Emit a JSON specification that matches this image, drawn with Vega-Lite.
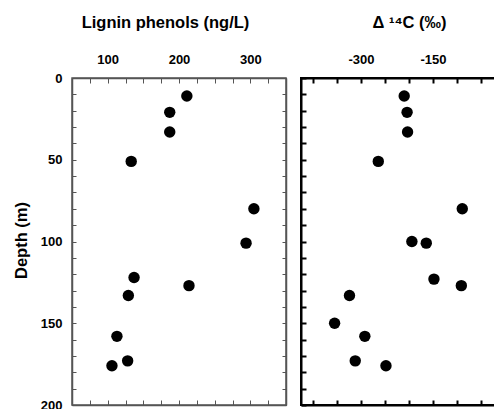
{
  "$schema": "https://vega.github.io/schema/vega-lite/v6.json",
  "padding": {"left": 12, "top": 13, "right": -25, "bottom": -4},
  "background": "white",
  "spacing": 11,
  "config": {
    "font": "Liberation Sans",
    "view": {"stroke": null},
    "axis": {
      "labelFont": "Liberation Sans", "labelFontWeight": "bold", "labelFontSize": 13, "labelColor": "black",
      "titleFont": "Liberation Sans", "titleFontWeight": "bold", "titleFontSize": 16.5, "titleColor": "black",
      "grid": false, "labelOverlap": false, "labelFlush": false, "tickSize": -5
    },
    "axisX": {"labelPadding": 17, "titlePadding": 23},
    "axisY": {"labelPadding": 14}
  },
  "datasets": {
    "lignin": [
      {"depth": 11, "lignin": 211}, {"depth": 21, "lignin": 187}, {"depth": 33, "lignin": 187},
      {"depth": 51, "lignin": 133}, {"depth": 80, "lignin": 305}, {"depth": 101, "lignin": 294},
      {"depth": 122, "lignin": 137}, {"depth": 127, "lignin": 214}, {"depth": 133, "lignin": 129},
      {"depth": 158, "lignin": 113}, {"depth": 173, "lignin": 128}, {"depth": 176, "lignin": 106}
    ],
    "d14c": [
      {"depth": 11, "d14c": -210}, {"depth": 21, "d14c": -204}, {"depth": 33, "d14c": -203},
      {"depth": 51, "d14c": -264}, {"depth": 80, "d14c": -89}, {"depth": 100, "d14c": -194},
      {"depth": 101, "d14c": -164}, {"depth": 123, "d14c": -148}, {"depth": 127, "d14c": -91},
      {"depth": 133, "d14c": -324}, {"depth": 150, "d14c": -355}, {"depth": 158, "d14c": -292},
      {"depth": 173, "d14c": -312}, {"depth": 176, "d14c": -248}
    ]
  },
  "hconcat": [
    {
      "width": 214, "height": 327,
      "data": {"name": "lignin"},
      "view": {"stroke": "#555", "strokeWidth": 1.5},
      "layer": [
        {
          "mark": {"type": "point", "filled": true, "color": "black", "size": 130, "opacity": 1},
          "encoding": {
            "x": {"field": "lignin", "type": "quantitative",
              "scale": {"domain": [50, 350], "nice": false, "zero": false},
              "axis": {"orient": "top", "title": "Lignin phenols (ng/L)", "titleX": 93,
                "values": [50,75,100,125,150,175,200,225,250,275,300,325,350],
                "labelExpr": "datum.value % 100 == 0 ? '' + datum.value : ''",
                "domainColor": "#555", "domainWidth": 1.5, "tickColor": "#555", "tickWidth": 1}},
            "y": {"field": "depth", "type": "quantitative",
              "scale": {"domain": [0, 200], "reverse": true, "nice": false, "zero": false},
              "axis": {"orient": "left", "title": "Depth (m)", "titleX": -46, "titleY": 162,
                "titleAngle": 270, "titleAlign": "center", "titleBaseline": "alphabetic",
                "values": [0,10,20,30,40,50,60,70,80,90,100,110,120,130,140,150,160,170,180,190,200],
                "labelExpr": "datum.value % 50 == 0 ? '' + datum.value : ''",
                "domainColor": "#555", "domainWidth": 1.5, "tickColor": "#555", "tickWidth": 1, "tickSize": -4}}
          }
        },
        {
          "mark": {"type": "point", "opacity": 0},
          "encoding": {
            "x": {"field": "lignin", "type": "quantitative",
              "scale": {"domain": [50, 350], "nice": false, "zero": false},
              "axis": {"orient": "bottom", "title": null, "labels": false,
                "values": [50,75,100,125,150,175,200,225,250,275,300,325,350],
                "domainColor": "#555", "domainWidth": 1.5, "tickColor": "#555", "tickWidth": 1}},
            "y": {"field": "depth", "type": "quantitative",
              "scale": {"domain": [0, 200], "reverse": true, "nice": false, "zero": false},
              "axis": {"orient": "right", "title": null, "labels": false,
                "values": [0,10,20,30,40,50,60,70,80,90,100,110,120,130,140,150,160,170,180,190,200],
                "domainColor": "#555", "domainWidth": 1.5, "tickColor": "#555", "tickWidth": 1, "tickSize": -4}}
          }
        }
      ],
      "resolve": {"axis": {"x": "independent", "y": "independent"}}
    },
    {
      "width": 216, "height": 327,
      "data": {"name": "d14c"},
      "view": {"stroke": "black", "strokeWidth": 2},
      "layer": [
        {
          "mark": {"type": "point", "filled": true, "color": "black", "size": 130, "opacity": 1},
          "encoding": {
            "x": {"field": "d14c", "type": "quantitative",
              "scale": {"domain": [-425, 25], "nice": false, "zero": false},
              "axis": {"orient": "top", "title": "Δ ¹⁴C (‰)",
                "values": [-400,-350,-300,-250,-200,-150,-100,-50,0],
                "labelExpr": "datum.value % 150 == 0 ? '' + datum.value : ''",
                "domainColor": "black", "domainWidth": 2, "tickColor": "black", "tickWidth": 2}},
            "y": {"field": "depth", "type": "quantitative",
              "scale": {"domain": [0, 200], "reverse": true, "nice": false, "zero": false},
              "axis": {"orient": "left", "title": null, "labels": false,
                "values": [0,10,20,30,40,50,60,70,80,90,100,110,120,130,140,150,160,170,180,190,200],
                "domainColor": "black", "domainWidth": 2, "tickColor": "black", "tickWidth": 2, "tickSize": -5}}
          }
        },
        {
          "mark": {"type": "point", "opacity": 0},
          "encoding": {
            "x": {"field": "d14c", "type": "quantitative",
              "scale": {"domain": [-425, 25], "nice": false, "zero": false},
              "axis": {"orient": "bottom", "title": null, "labels": false,
                "values": [-400,-350,-300,-250,-200,-150,-100,-50,0],
                "domainColor": "black", "domainWidth": 2, "tickColor": "black", "tickWidth": 2}},
            "y": {"field": "depth", "type": "quantitative",
              "scale": {"domain": [0, 200], "reverse": true, "nice": false, "zero": false},
              "axis": {"orient": "right", "title": null, "labels": false,
                "values": [0,10,20,30,40,50,60,70,80,90,100,110,120,130,140,150,160,170,180,190,200],
                "domainColor": "black", "domainWidth": 2, "tickColor": "black", "tickWidth": 2, "tickSize": -5}}
          }
        }
      ],
      "resolve": {"axis": {"x": "independent", "y": "independent"}}
    }
  ]
}
